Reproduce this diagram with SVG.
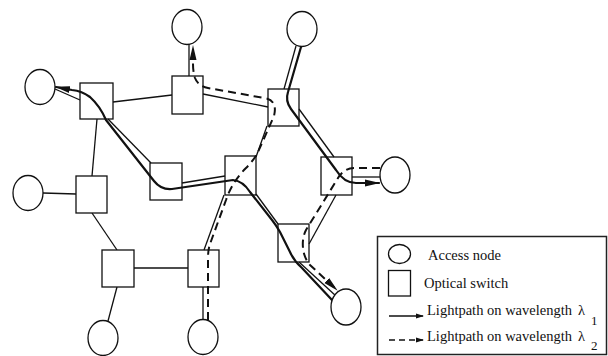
<svg xmlns="http://www.w3.org/2000/svg" width="608" height="356" viewBox="0 0 608 356">
<defs>
<style>
.node{fill:#fff;stroke:#111;stroke-width:1.3}
.link{fill:none;stroke:#111;stroke-width:1.3}
.l1{fill:none;stroke:#111;stroke-width:2.2;stroke-linecap:round;stroke-linejoin:round}
.l2{fill:none;stroke:#111;stroke-width:2;stroke-dasharray:8 5}
.txt{font-family:"Liberation Serif","Times New Roman",serif;font-size:14.5px;fill:#111}
.sub{font-size:13px}
</style>
<marker id="ah" markerUnits="userSpaceOnUse" markerWidth="15" markerHeight="8" refX="14" refY="4" orient="auto">
<path d="M0,0.5 L15,4 L0,7.5 z" fill="#111"/>
</marker>
<marker id="ahs" markerUnits="userSpaceOnUse" markerWidth="8" markerHeight="6" refX="7" refY="3" orient="auto">
<path d="M0,0.5 L8,3 L0,5.5 z" fill="#111"/>
</marker>
</defs>
<rect width="608" height="356" fill="#fff"/>

<g id="connectors">
<g id="links">
<line class="link" x1="55" y1="89" x2="80" y2="100"/>
<line class="link" x1="113" y1="102" x2="172" y2="95"/>
<line class="link" x1="203" y1="94" x2="268" y2="107"/>
<line class="link" x1="189" y1="44" x2="189" y2="76"/>
<line class="link" x1="296" y1="46" x2="284" y2="89"/>
<line class="link" x1="97" y1="119" x2="92" y2="176"/>
<line class="link" x1="108" y1="119" x2="151" y2="163"/>
<line class="link" x1="182" y1="183" x2="225" y2="176"/>
<line class="link" x1="256" y1="157" x2="267" y2="126"/>
<line class="link" x1="224" y1="195" x2="204" y2="250"/>
<line class="link" x1="256" y1="194" x2="278" y2="224"/>
<line class="link" x1="299" y1="109" x2="334" y2="157"/>
<line class="link" x1="352" y1="177" x2="380" y2="177"/>
<line class="link" x1="336" y1="195" x2="309" y2="244"/>
<line class="link" x1="299" y1="262" x2="336" y2="296"/>
<line class="link" x1="43" y1="193" x2="76" y2="194"/>
<line class="link" x1="92" y1="213" x2="117" y2="250"/>
<line class="link" x1="134" y1="268" x2="188" y2="268"/>
<line class="link" x1="117" y1="287" x2="108" y2="321"/>
<line class="link" x1="203" y1="287" x2="203" y2="320"/>
</g>
<g id="lightpaths">
<path class="l1" marker-end="url(#ah)" d="M301,47 L288,92 Q285,101 291,109 L336,170 Q344,183 356,183 L379,183"/>
<path class="l1" marker-end="url(#ah)" d="M332,300 L302,268 Q294,261 290,252 L280,232 Q276,225 272,220 L250,192 Q243,181 233,180 L172,189 Q161,190 154,181 L106,120 Q100,106 90,97 Q82,91 72,90 L56,87"/>
<path class="l2" marker-end="url(#ah)" d="M208,320 L208,258 Q208,250 210,244 L226,200 Q232,182 246,168 Q254,160 258,152 L274,116 Q278,100 264,98 L208,88 Q198,86 195,78 Q193,72 193,64 L193,46"/>
<path class="l2" marker-end="url(#ah)" d="M380,168 L354,168 Q344,168 338,178 L306,230 Q302,238 303,248 Q304,258 310,265 L337,290"/>
</g>
</g>

<g id="A1"><ellipse class="node" cx="187" cy="27" rx="15" ry="17.5"/></g>
<g id="A2"><ellipse class="node" cx="302" cy="29" rx="15" ry="17.5"/></g>
<g id="A3"><ellipse class="node" cx="40" cy="87" rx="15" ry="17.5"/></g>
<g id="A4"><ellipse class="node" cx="28" cy="193" rx="15" ry="17.5"/></g>
<g id="A5"><ellipse class="node" cx="103" cy="338" rx="15" ry="17.5"/></g>
<g id="A6"><ellipse class="node" cx="203" cy="337" rx="15" ry="17.5"/></g>
<g id="A7"><ellipse class="node" cx="395" cy="175" rx="15" ry="18"/></g>
<g id="A8"><ellipse class="node" cx="346" cy="307" rx="15" ry="18"/></g>

<g id="S1"><rect class="node" x="80" y="83" width="33" height="36" fill-opacity="0"/></g>
<g id="S2"><rect class="node" x="172" y="76" width="31" height="38" fill-opacity="0"/></g>
<g id="S3"><rect class="node" x="268" y="89" width="31" height="37" fill-opacity="0"/></g>
<g id="S4"><rect class="node" x="150" y="163" width="32" height="37" fill-opacity="0"/></g>
<g id="S5"><rect class="node" x="225" y="156" width="31" height="39" fill-opacity="0"/></g>
<g id="S6"><rect class="node" x="76" y="176" width="31" height="37"/></g>
<g id="S7"><rect class="node" x="102" y="250" width="32" height="37"/></g>
<g id="S8"><rect class="node" x="188" y="250" width="31" height="37" fill-opacity="0"/></g>
<g id="S9"><rect class="node" x="321" y="157" width="31" height="38" fill-opacity="0"/></g>
<g id="S10"><rect class="node" x="278" y="224" width="31" height="38" fill-opacity="0"/></g>

<g id="legend">
<rect x="377.5" y="236.5" width="229" height="118" fill="#fff" stroke="#222" stroke-width="1.5"/>
<ellipse class="node" cx="399.5" cy="254" rx="11" ry="9.5"/>
<rect class="node" x="388.5" y="270.5" width="22" height="25.5"/>
<line class="link" x1="389" y1="316" x2="423" y2="316" marker-end="url(#ahs)"/>
<line class="link" x1="389" y1="340" x2="423" y2="340" stroke-dasharray="6 4" marker-end="url(#ahs)"/>
<text class="txt" x="428" y="260">Access node</text>
<text class="txt" x="424" y="288">Optical switch</text>
<text class="txt" x="427" y="315">Lightpath on wavelength <tspan x="578">λ</tspan><tspan class="sub" x="591" y="325">1</tspan></text>
<text class="txt" x="427" y="341">Lightpath on wavelength <tspan x="578">λ</tspan><tspan class="sub" x="591" y="350">2</tspan></text>
</g>
</svg>
